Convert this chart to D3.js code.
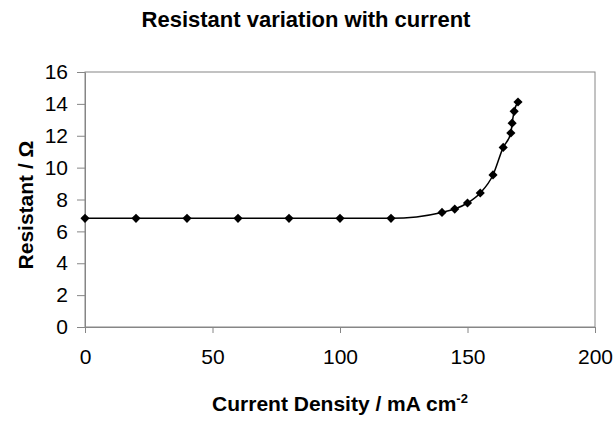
<!DOCTYPE html>
<html>
<head>
<meta charset="utf-8">
<script src="https://cdn.jsdelivr.net/npm/d3@7"></script>
<style>
  body { margin: 0; background: #fff; }
  text { font-family: "Liberation Sans", Arial, sans-serif; }
</style>
</head>
<body>
<script>
// data
const densidade = [0, 20, 40, 60, 80, 100, 120, 140, 145, 150, 155, 160, 164, 167, 167.5, 168.3, 169.8]
const resistencia = [6.82, 6.82, 6.82, 6.82, 6.82, 6.82, 6.82, 7.19, 7.4, 7.78, 8.41, 9.54, 11.27, 12.17, 12.79, 13.53, 14.12]
const ticksX = [0, 50, 100, 150, 200]
const ticksY = [0, 2, 4, 6, 8, 10, 12, 14, 16]

const dados = densidade.map((d, i) => ({x: d, y: resistencia[i]}))

const largura = 613, altura = 421
const margem = {topo: 72, direita: 18, base: 94, esquerda: 85}
const w = largura - margem.esquerda - margem.direita
const h = altura - margem.topo - margem.base

const svg = d3.select('body').append('svg')
  .attr('width', largura)
  .attr('height', altura)

const g = svg.append('g')
  .attr('transform', 'translate(' + margem.esquerda + ',' + margem.topo + ')')

const x = d3.scaleLinear().domain([0, 200]).range([0, w])
const y = d3.scaleLinear().domain([0, 16]).range([h, 0])

// caixa da area do grafico
g.append('rect')
  .attr('width', w).attr('height', h)
  .attr('fill', 'none').attr('stroke', '#868686')

const eixoX = g.append('g')
  .attr('transform', 'translate(0,' + h + ')')
  .call(d3.axisBottom(x).tickValues(ticksX).tickSize(6).tickPadding(16).tickSizeOuter(0))
const eixoY = g.append('g')
  .call(d3.axisLeft(y).tickValues(ticksY).tickSize(8).tickPadding(9).tickSizeOuter(0))

;[eixoX, eixoY].forEach(e => {
  e.select('.domain').attr('stroke', '#868686')
  e.selectAll('.tick line').attr('stroke', '#868686')
  e.selectAll('.tick text')
    .attr('fill', '#000')
    .style('font-size', '21px')
    .style('font-family', '"Liberation Sans", Arial, sans-serif')
})

// linha suavizada
const linha = d3.line()
  .x(d => x(d.x))
  .y(d => y(d.y))
  .curve(d3.curveMonotoneX)

g.append('path')
  .attr('d', linha(dados))
  .attr('fill', 'none')
  .attr('stroke', '#000')
  .attr('stroke-width', 1.5)

// marcadores losango
const losango = d3.symbol().type(d3.symbolSquare).size(42)
g.selectAll('.ponto').data(dados).enter()
  .append('path')
  .attr('class', 'ponto')
  .attr('d', losango)
  .attr('transform', d => 'translate(' + x(d.x) + ',' + y(d.y) + ') rotate(45)')
  .attr('fill', '#000')

// titulos
svg.append('text')
  .attr('x', 306).attr('y', 27)
  .attr('text-anchor', 'middle')
  .style('font-size', '22px').style('font-weight', 'bold')
  .text('Resistant variation with current')

const rotuloX = svg.append('text')
  .attr('x', margem.esquerda + w / 2).attr('y', 411)
  .attr('text-anchor', 'middle')
  .style('font-size', '21px').style('font-weight', 'bold')
rotuloX.append('tspan').text('Current Density / mA cm')
rotuloX.append('tspan').attr('dy', -8).style('font-size', '13px').text('-2')

svg.append('text')
  .attr('transform', 'translate(33,' + 205 + ') rotate(-90)')
  .attr('text-anchor', 'middle')
  .style('font-size', '21px').style('font-weight', 'bold')
  .text('Resistant / Ω')
</script>
</body>
</html>
